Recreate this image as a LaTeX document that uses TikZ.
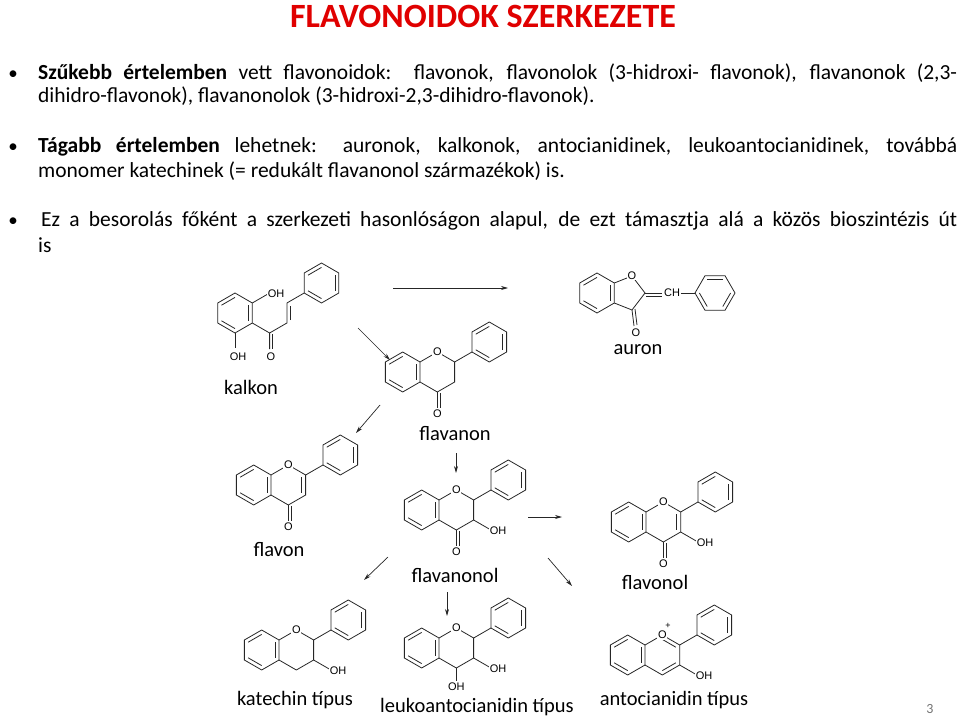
\documentclass[tikz,border=0pt]{standalone}
\usepackage{fontspec}
\setmainfont{Carlito}
\newfontfamily\chemfam{Liberation Sans}
\usetikzlibrary{calc,arrows.meta}
\tikzset{
 bond/.style={line width=0.8pt,black!85},
 atom/.style={fill=white,inner sep=0.6pt,font=\chemfam\fontsize{11}{11}\selectfont},
 lab/.style={font=\fontsize{20.5}{20.5}\selectfont},
 arr/.style={-{Stealth[length=7pt,width=4pt]},line width=0.7pt,black!85},
 txt/.style={anchor=base west,inner sep=0pt,font=\fontsize{21.5}{25}\selectfont},
}
\newcommand\dbl[3]{\draw[bond] ($(#1)!0.22!(#3)$) -- ($(#2)!0.22!(#3)$);}
\newcommand\flavcore{%
 \coordinate (lc) at (-17.32,0); \coordinate (a1) at (-17.32,20); \coordinate (a2) at (0,10);
 \coordinate (a3) at (0,-10); \coordinate (a4) at (-17.32,-20); \coordinate (a5) at (-34.64,-10); \coordinate (a6) at (-34.64,10);
 \coordinate (rc) at (17.32,0); \coordinate (O1) at (17.32,20); \coordinate (C2) at (34.64,10);
 \coordinate (C3) at (34.64,-10); \coordinate (C4) at (17.32,-20);
 \coordinate (pc) at (69.28,30); \coordinate (p1) at (51.96,20); \coordinate (p2) at (51.96,40); \coordinate (p3) at (69.28,50);
 \coordinate (p4) at (86.6,40); \coordinate (p5) at (86.6,20); \coordinate (p6) at (69.28,10);
 \draw[bond] (a1)--(a2)--(a3)--(a4)--(a5)--(a6)--cycle;
 \draw[bond] (a2)--(O1)--(C2)--(C3)--(C4)--(a3);
 \draw[bond] (C2)--(p1);
 \draw[bond] (p1)--(p2)--(p3)--(p4)--(p5)--(p6)--cycle;
 \dbl{a6}{a1}{lc}\dbl{a2}{a3}{lc}\dbl{a4}{a5}{lc}
 \dbl{p2}{p3}{pc}\dbl{p4}{p5}{pc}\dbl{p6}{p1}{pc}}
\newcommand\ringO{\node[atom] at (O1) {O};}
\newcommand\carbonyl{\draw[bond] (C4)--++(0,-16); \draw[bond] ($(C4)+(3,-1)$)--++(0,-15); \node[atom] at (17.32,-42) {O};}
\newcommand\ohthree{\draw[bond] (C3)--(51.96,-20); \node[atom,anchor=west] at (50,-21) {OH};}
\newcommand\ohfour{\draw[bond] (C4)--(17.32,-33); \node[atom] at (17.32,-39) {OH};}
\begin{document}
\begin{tikzpicture}[x=1pt,y=1pt]
\useasboundingbox (0,0) rectangle (960,-719);
% title and text
\node[font=\bfseries\fontsize{34}{34}\selectfont,text={rgb,255:red,224;green,0;blue,0}] (title) at (483,-16) {FLAVONOIDOK SZERKEZETE};
\foreach \yy in {80,153,227} \node[anchor=base,font=\fontsize{19}{19}\selectfont] at (13,-\yy) {•};
\node[txt] (l1) at (38,-80) {\makebox[919pt][s]{\textbf{Szűkebb értelemben} vett flavonoidok:\ \ flavonok, flavonolok (3-hidroxi- flavonok), flavanonok (2,3-}};
\node[txt] (l2) at (38,-103) {dihidro-flavonok), flavanonolok (3-hidroxi-2,3-dihidro-flavonok).};
\node[txt] (l3) at (38,-153) {\makebox[919pt][s]{\textbf{Tágabb értelemben} lehetnek: auronok, kalkonok, antocianidinek, leukoantocianidinek, továbbá}};
\node[txt] (l4) at (38,-178) {monomer katechinek (= redukált flavanonol származékok) is.};
\node[txt] (l5) at (41,-227) {\makebox[916pt][s]{Ez a besorolás főként a szerkezeti hasonlóságon alapul, de ezt támasztja alá a közös bioszintézis út}};
\node[txt] (l6) at (38,-252) {is};
\node[font=\fontsize{14}{14}\selectfont,text=black!55] (pg) at (930,-709) {3};
% kalkon
\coordinate (kc) at (235,-313);
\coordinate (k1) at (235,-293); \coordinate (k2) at (252.3,-303); \coordinate (k3) at (252.3,-323);
\coordinate (k4) at (235,-333); \coordinate (k5) at (217.7,-323); \coordinate (k6) at (217.7,-303);
\draw[bond] (k1)--(k2)--(k3)--(k4)--(k5)--(k6)--cycle;
\dbl{k6}{k1}{kc}\dbl{k2}{k3}{kc}\dbl{k4}{k5}{kc}
\draw[bond] (k2)--(269.6,-293); \node[atom,anchor=west] at (267,-294) {OH};
\draw[bond] (k4)--(235,-348); \node[atom] at (238,-357) {OH};
\coordinate (kk) at (269.6,-333);
\draw[bond] (k3)--(kk)--(269.6,-349); \draw[bond] (272.6,-334)--(272.6,-349); \node[atom] at (271,-357) {O};
\coordinate (ka) at (286.9,-323); \coordinate (kb) at (286.9,-303);
\draw[bond] (kk)--(ka)--(kb); \draw[bond] (289.9,-320)--(289.9,-306);
\coordinate (q1) at (304.2,-293); \coordinate (q2) at (304.2,-273); \coordinate (q3) at (321.5,-263);
\coordinate (q4) at (338.8,-273); \coordinate (q5) at (338.8,-293); \coordinate (q6) at (321.5,-303); \coordinate (qc) at (321.5,-283);
\draw[bond] (kb)--(q1);
\draw[bond] (q1)--(q2)--(q3)--(q4)--(q5)--(q6)--cycle;
\dbl{q2}{q3}{qc}\dbl{q4}{q5}{qc}\dbl{q6}{q1}{qc}
\node[lab] (kalkon) at (251,-387) {kalkon};
% auron
\coordinate (bc) at (597,-293);
\coordinate (b1) at (597,-273); \coordinate (b2) at (614.3,-283); \coordinate (b3) at (614.3,-303);
\coordinate (b4) at (597,-313); \coordinate (b5) at (579.7,-303); \coordinate (b6) at (579.7,-283);
\draw[bond] (b1)--(b2)--(b3)--(b4)--(b5)--(b6)--cycle;
\dbl{b6}{b1}{bc}\dbl{b2}{b3}{bc}\dbl{b4}{b5}{bc}
\coordinate (ao) at (632,-276); \coordinate (a2c) at (645,-293); \coordinate (a3c) at (632,-310);
\draw[bond] (b2)--(ao)--(a2c)--(a3c)--(b3);
\draw[bond] (a3c)--(634,-326); \draw[bond] (635,-309)--(637,-325); \node[atom] at (636,-333) {O};
\node[atom] at (ao) {O};
\draw[bond] (a2c)--(662,-293); \draw[bond] (646,-296)--(662,-296);
\node[atom] (ch) at (672,-293) {CH};
\coordinate (r1) at (695,-293); \coordinate (r2) at (705,-275.7); \coordinate (r3) at (725,-275.7);
\coordinate (r4) at (735,-293); \coordinate (r5) at (725,-310.3); \coordinate (r6) at (705,-310.3); \coordinate (rcn) at (715,-293);
\draw[bond] (ch.east)--(r1);
\draw[bond] (r1)--(r2)--(r3)--(r4)--(r5)--(r6)--cycle;
\dbl{r2}{r3}{rcn}\dbl{r4}{r5}{rcn}\dbl{r6}{r1}{rcn}
\node[lab] (auron) at (638,-350) {auron};
% flavanon
\begin{scope}[shift={(420,-372)}]\flavcore\carbonyl\ringO\end{scope}
\node[lab] (flavanon) at (455,-434) {flavanon};
% flavon
\begin{scope}[shift={(271,-485)}]\flavcore\dbl{C2}{C3}{rc}\carbonyl\ringO\end{scope}
\node[lab] (flavon) at (279,-550) {flavon};
% flavanonol
\begin{scope}[shift={(439,-510)}]\flavcore\carbonyl\ohthree\ringO\end{scope}
\node[lab] (flavanonol) at (455,-575) {flavanonol};
% flavonol
\begin{scope}[shift={(646,-522)}]\flavcore\dbl{C2}{C3}{rc}\carbonyl\ohthree\ringO\end{scope}
\node[lab] (flavonol) at (655,-582) {flavonol};
% katechin
\begin{scope}[shift={(279,-650)}]\flavcore\ohthree\ringO\end{scope}
\node[lab] (katechin) at (295,-700) {katechin típus};
% leukoantocianidin
\begin{scope}[shift={(439,-648)}]\flavcore\ohthree\ohfour\ringO\end{scope}
\node[lab] (leuko) at (477,-707) {leukoantocianidin típus};
% antocianidin
\begin{scope}[shift={(645,-655)}]\flavcore\dbl{O1}{C2}{rc}\dbl{C3}{C4}{rc}\ohthree\ringO
\node[font=\chemfam\fontsize{9}{9}\selectfont] at (23,29) {+};\end{scope}
\node[lab] (anto) at (674,-700) {antocianidin típus};
% arrows
\draw[arr] (393,-288) -- (508,-288);
\draw[arr] (358,-328) -- (390,-360);
\draw[arr] (380,-405) -- (356,-433);
\draw[arr] (456,-453) -- (456,-473);
\draw[arr] (528,-517) -- (562,-517);
\draw[arr] (388,-557) -- (364,-580);
\draw[arr] (447,-592) -- (447,-616);
\draw[arr] (548,-558) -- (572,-586);
\end{tikzpicture}
\end{document}
